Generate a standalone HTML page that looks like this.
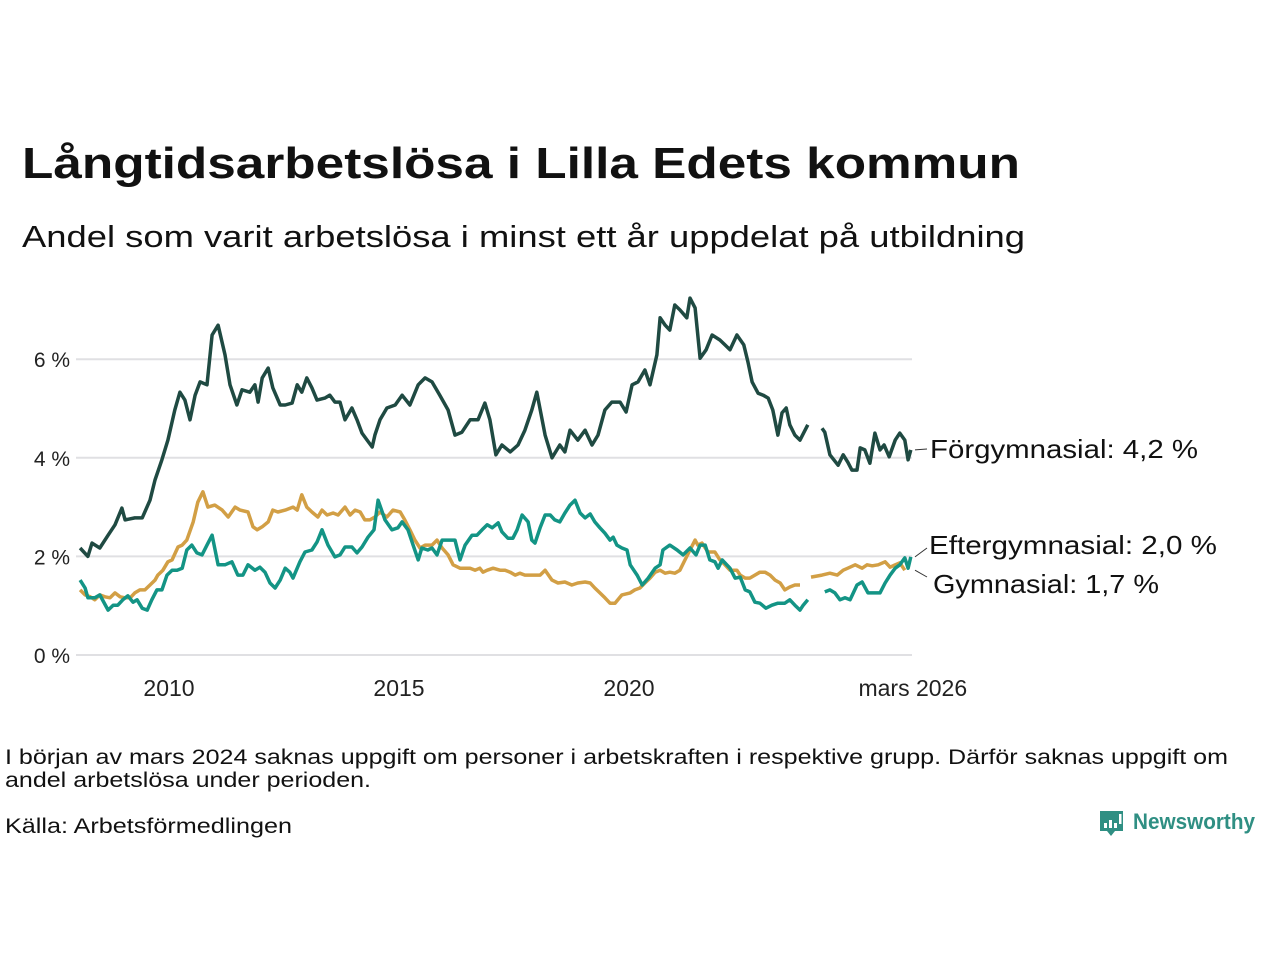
<!DOCTYPE html>
<html><head><meta charset="utf-8"><style>
html,body{margin:0;padding:0;background:#fff;}
svg{display:block;font-family:"Liberation Sans",sans-serif;}
</style></head><body>
<svg id="chart" width="1280" height="960" viewBox="0 0 1280 960">
<text x="22" y="178" font-size="44" font-weight="bold" fill="#111" textLength="998" lengthAdjust="spacingAndGlyphs">Långtidsarbetslösa i Lilla Edets kommun</text>
<text x="22" y="247" font-size="31" fill="#111" textLength="1003" lengthAdjust="spacingAndGlyphs">Andel som varit arbetslösa i minst ett år uppdelat på utbildning</text>
<g id="grid"></g>
<g id="yticks"></g>
<g id="xticks"></g>
<g id="lines"></g>
<g id="labels"></g>
<text x="5" y="764" font-size="21" fill="#111" textLength="1223" lengthAdjust="spacingAndGlyphs">I början av mars 2024 saknas uppgift om personer i arbetskraften i respektive grupp. Därför saknas uppgift om</text>
<text x="5" y="787" font-size="21" fill="#111" textLength="366" lengthAdjust="spacingAndGlyphs">andel arbetslösa under perioden.</text>
<text x="5" y="833" font-size="21" fill="#111" textLength="287" lengthAdjust="spacingAndGlyphs">Källa: Arbetsförmedlingen</text>
<g>
<path d="M1100 811 h23 v20 h-8 l-4 5 l-4 -5 h-7 z" fill="#2f8f83"/>
<rect x="1104" y="823" width="3" height="5" fill="#fff"/><rect x="1109" y="820" width="3" height="8" fill="#fff"/><rect x="1114" y="823" width="3" height="5" fill="#fff"/><rect x="1119" y="814" width="2.5" height="10" fill="#fff"/>
<text x="1133" y="829" font-size="22" font-weight="bold" fill="#2f8f83" textLength="122" lengthAdjust="spacingAndGlyphs">Newsworthy</text>
</g>
</svg>
<script>
const yTicks=[0,2,4,6];
const yTickLabels=["0 %","2 %","4 %","6 %"];
const xTicks=[2010,2015,2020,2026.17];
const xTickLabels=["2010","2015","2020","mars 2026"];
const forgDates=[2008.11,2008.28,2008.37,2008.54,2008.72,2008.87,2009.02,2009.09,2009.30,2009.46,2009.63,2009.74,2009.89,2010.02,2010.17,2010.28,2010.39,2010.50,2010.61,2010.72,2010.87,2010.98,2011.11,2011.26,2011.37,2011.52,2011.63,2011.80,2011.91,2011.98,2012.07,2012.20,2012.30,2012.46,2012.57,2012.72,2012.83,2012.93,2013.04,2013.15,2013.26,2013.43,2013.54,2013.65,2013.76,2013.87,2014.02,2014.13,2014.24,2014.35,2014.46,2014.52,2014.63,2014.78,2014.96,2015.11,2015.28,2015.46,2015.61,2015.76,2015.93,2016.11,2016.26,2016.41,2016.59,2016.76,2016.91,2017.02,2017.15,2017.28,2017.46,2017.63,2017.78,2017.93,2018.04,2018.22,2018.37,2018.54,2018.65,2018.76,2018.93,2019.09,2019.24,2019.37,2019.52,2019.67,2019.85,2019.98,2020.11,2020.24,2020.39,2020.50,2020.65,2020.72,2020.83,2020.93,2021.04,2021.15,2021.30,2021.37,2021.48,2021.59,2021.72,2021.85,2022.02,2022.13,2022.24,2022.39,2022.54,2022.63,2022.72,2022.85,2022.96,2023.07,2023.17,2023.28,2023.37,2023.46,2023.54,2023.65,2023.76,2023.93,2024.0,2024.24,2024.30,2024.41,2024.59,2024.70,2024.80,2024.89,2025.00,2025.07,2025.17,2025.28,2025.39,2025.50,2025.59,2025.70,2025.83,2025.93,2026.04,2026.11,2026.17];
const forgValues=[2.17,2.0,2.27,2.17,2.43,2.64,2.98,2.74,2.78,2.78,3.14,3.55,3.96,4.36,4.97,5.33,5.17,4.77,5.27,5.54,5.48,6.49,6.69,6.09,5.48,5.07,5.38,5.33,5.48,5.13,5.62,5.82,5.42,5.07,5.07,5.11,5.48,5.33,5.62,5.42,5.17,5.21,5.27,5.13,5.13,4.77,5.01,4.77,4.50,4.36,4.22,4.46,4.77,5.01,5.07,5.27,5.07,5.48,5.62,5.54,5.27,4.97,4.46,4.52,4.77,4.77,5.11,4.77,4.06,4.26,4.12,4.26,4.56,4.97,5.33,4.46,4.00,4.26,4.12,4.56,4.36,4.56,4.26,4.46,4.97,5.13,5.13,4.93,5.48,5.54,5.78,5.48,6.09,6.84,6.69,6.59,7.1,7.0,6.84,7.24,7.04,6.02,6.19,6.49,6.39,6.29,6.19,6.49,6.29,5.94,5.54,5.31,5.27,5.21,4.97,4.46,4.91,5.01,4.67,4.46,4.36,4.67,null,4.60,4.52,4.06,3.85,4.06,3.91,3.75,3.75,4.20,4.16,3.89,4.50,4.16,4.26,4.02,4.36,4.50,4.36,3.96,4.16];
const efterDates=[2008.11,2008.22,2008.28,2008.43,2008.54,2008.72,2008.83,2008.93,2009.04,2009.15,2009.26,2009.35,2009.46,2009.57,2009.67,2009.78,2009.89,2010.00,2010.11,2010.22,2010.33,2010.43,2010.54,2010.65,2010.76,2010.87,2010.98,2011.11,2011.26,2011.41,2011.54,2011.65,2011.76,2011.91,2012.02,2012.13,2012.24,2012.35,2012.46,2012.57,2012.67,2012.74,2012.89,2013.00,2013.15,2013.26,2013.37,2013.50,2013.65,2013.76,2013.87,2014.02,2014.13,2014.24,2014.37,2014.50,2014.59,2014.74,2014.89,2015.02,2015.11,2015.24,2015.35,2015.46,2015.54,2015.67,2015.76,2015.87,2015.98,2016.11,2016.26,2016.37,2016.48,2016.63,2016.74,2016.85,2016.96,2017.07,2017.20,2017.28,2017.41,2017.52,2017.61,2017.72,2017.85,2017.93,2018.00,2018.11,2018.22,2018.33,2018.43,2018.54,2018.65,2018.76,2018.87,2018.98,2019.09,2019.20,2019.30,2019.41,2019.52,2019.63,2019.70,2019.78,2019.89,2020.00,2020.07,2020.22,2020.33,2020.46,2020.61,2020.72,2020.78,2020.93,2021.09,2021.22,2021.37,2021.50,2021.59,2021.70,2021.80,2021.91,2021.98,2022.07,2022.24,2022.35,2022.46,2022.57,2022.67,2022.78,2022.89,2023.02,2023.15,2023.28,2023.43,2023.54,2023.65,2023.76,2023.83,2023.93,2024.0,2024.30,2024.41,2024.52,2024.63,2024.74,2024.85,2025.00,2025.11,2025.24,2025.39,2025.50,2025.61,2025.72,2025.83,2025.93,2026.04,2026.11,2026.17];
const efterValues=[1.52,1.36,1.16,1.16,1.22,0.91,1.01,1.01,1.12,1.20,1.07,1.12,0.95,0.91,1.12,1.32,1.32,1.62,1.72,1.72,1.76,2.13,2.23,2.07,2.03,2.23,2.43,1.83,1.83,1.89,1.62,1.62,1.83,1.72,1.78,1.68,1.46,1.36,1.52,1.76,1.68,1.56,1.89,2.09,2.13,2.29,2.54,2.23,1.99,2.03,2.19,2.19,2.07,2.19,2.39,2.54,3.14,2.74,2.54,2.58,2.70,2.54,2.23,1.93,2.17,2.13,2.17,2.03,2.33,2.33,2.33,1.93,2.23,2.43,2.43,2.54,2.64,2.58,2.68,2.50,2.37,2.37,2.54,2.84,2.70,2.33,2.27,2.58,2.84,2.84,2.74,2.70,2.88,3.04,3.14,2.88,2.78,2.86,2.70,2.58,2.47,2.33,2.39,2.23,2.17,2.13,1.83,1.62,1.42,1.56,1.76,1.83,2.13,2.23,2.13,2.03,2.17,2.03,2.23,2.23,1.93,1.89,1.76,1.93,1.76,1.56,1.58,1.32,1.28,1.07,1.05,0.95,1.01,1.05,1.05,1.12,1.01,0.91,1.01,1.12,null,1.28,1.32,1.26,1.12,1.16,1.12,1.42,1.48,1.26,1.26,1.26,1.46,1.62,1.76,1.83,1.97,1.76,1.99];
const gymDates=[2008.11,2008.22,2008.33,2008.43,2008.54,2008.65,2008.76,2008.87,2008.98,2009.09,2009.20,2009.30,2009.41,2009.52,2009.63,2009.74,2009.80,2009.91,2010.02,2010.11,2010.24,2010.33,2010.43,2010.57,2010.67,2010.78,2010.89,2011.04,2011.20,2011.33,2011.48,2011.59,2011.76,2011.87,2011.96,2012.07,2012.20,2012.30,2012.41,2012.57,2012.74,2012.83,2012.93,2013.04,2013.15,2013.28,2013.37,2013.48,2013.61,2013.72,2013.87,2013.98,2014.09,2014.20,2014.30,2014.41,2014.52,2014.63,2014.78,2014.91,2015.07,2015.17,2015.28,2015.39,2015.50,2015.61,2015.76,2015.87,2015.98,2016.11,2016.22,2016.37,2016.48,2016.59,2016.70,2016.80,2016.87,2016.96,2017.09,2017.24,2017.35,2017.46,2017.57,2017.67,2017.78,2017.89,2018.00,2018.11,2018.22,2018.37,2018.50,2018.65,2018.80,2018.93,2019.09,2019.20,2019.30,2019.41,2019.52,2019.63,2019.74,2019.89,2020.07,2020.17,2020.28,2020.39,2020.50,2020.61,2020.72,2020.83,2020.93,2021.04,2021.15,2021.26,2021.37,2021.48,2021.54,2021.63,2021.76,2021.91,2022.02,2022.13,2022.24,2022.39,2022.46,2022.57,2022.67,2022.78,2022.89,2023.00,2023.11,2023.22,2023.33,2023.43,2023.54,2023.65,2023.76,2023.93,2024.0,2024.24,2024.41,2024.57,2024.70,2024.80,2024.96,2025.11,2025.22,2025.33,2025.46,2025.61,2025.72,2025.83,2025.93,2026.04,2026.17];
const gymValues=[1.32,1.22,1.18,1.12,1.22,1.18,1.16,1.26,1.18,1.16,1.16,1.26,1.32,1.32,1.42,1.52,1.62,1.72,1.89,1.93,2.19,2.23,2.33,2.70,3.10,3.31,3.00,3.04,2.94,2.80,3.00,2.94,2.90,2.60,2.54,2.60,2.70,2.94,2.90,2.94,3.00,2.94,3.25,3.00,2.90,2.80,2.94,2.84,2.88,2.84,3.00,2.84,2.94,2.90,2.74,2.74,2.80,2.90,2.80,2.94,2.90,2.74,2.54,2.33,2.17,2.23,2.23,2.33,2.17,2.03,1.83,1.76,1.76,1.76,1.72,1.76,1.68,1.72,1.76,1.72,1.72,1.68,1.62,1.66,1.62,1.62,1.62,1.62,1.72,1.52,1.46,1.48,1.42,1.46,1.48,1.46,1.36,1.26,1.16,1.05,1.05,1.22,1.26,1.32,1.36,1.46,1.56,1.68,1.72,1.66,1.68,1.66,1.72,1.93,2.13,2.33,2.23,2.27,2.09,2.09,1.93,1.83,1.72,1.72,1.62,1.56,1.56,1.62,1.68,1.68,1.62,1.52,1.46,1.32,1.38,1.42,1.42,null,1.58,1.62,1.66,1.62,1.72,1.76,1.83,1.76,1.83,1.81,1.83,1.89,1.78,1.83,1.87,1.72];
const seriesNames=["Förgymnasial: 4,2 %","Eftergymnasial: 2,0 %","Gymnasial: 1,7 %"];

const NS="http://www.w3.org/2000/svg";
const X0=2010,PX0=167,PXY=46,Y0=655,PYU=49.3;
function xs(t){return PX0+(t-X0)*PXY;}
function ys(v){return Y0-v*PYU;}
function mk(tag,attrs,parent){const e=document.createElementNS(NS,tag);for(const k in attrs)e.setAttribute(k,attrs[k]);parent.appendChild(e);return e;}
const grid=document.getElementById('grid'),yt=document.getElementById('yticks'),xt=document.getElementById('xticks');
yTicks.forEach((v,i)=>{
  const l=mk('line',{x1:76,x2:912,y1:ys(v),y2:ys(v),stroke:'#e0e0e3','stroke-width':2},grid);
  
  
  const t=mk('text',{x:70,y:ys(v)+8,'font-size':21,fill:'#222','text-anchor':'end'},yt);
  t.textContent=yTickLabels[i];
  
  
});
xTicks.forEach((v,i)=>{
  const t=mk('text',{x:xs(v)+2,y:696,'font-size':23,fill:'#222','text-anchor':'middle'},xt);
  t.textContent=xTickLabels[i];
  
  
});
function path(dates,vals){let d='',pen=false;for(let i=0;i<dates.length;i++){if(vals[i]==null){pen=false;continue;}d+=(pen?'L':'M')+xs(dates[i]).toFixed(1)+' '+ys(vals[i]).toFixed(1);pen=true;}return d;}
const lines=document.getElementById('lines');
const g1=mk('path',{d:path(gymDates,gymValues),fill:'none',stroke:'#d29f45','stroke-width':3.5,'stroke-linejoin':'round'},lines);


const g2=mk('path',{d:path(efterDates,efterValues),fill:'none',stroke:'#139485','stroke-width':3.5,'stroke-linejoin':'round'},lines);


const g3=mk('path',{d:path(forgDates,forgValues),fill:'none',stroke:'#1f4a42','stroke-width':3.5,'stroke-linejoin':'round'},lines);


const lab=document.getElementById('labels');
const lastF=forgValues[forgValues.length-1],lastE=efterValues[efterValues.length-1],lastG=gymValues[gymValues.length-1];
const labelSpec=[[lastF,450,930,268,449],[lastE,546,929,288,548],[lastG,585,933,226,577]];
labelSpec.forEach((s,i)=>{
  const ln=mk('line',{x1:915,y1:ys(s[0]),x2:927,y2:s[4],stroke:'#333','stroke-width':1},lab);
  
  
  const t=mk('text',{x:s[2],y:s[1]+8,'font-size':26,fill:'#111',textLength:s[3],lengthAdjust:'spacingAndGlyphs'},lab);
  t.textContent=seriesNames[i];
  
  
});
</script>
</body></html>
